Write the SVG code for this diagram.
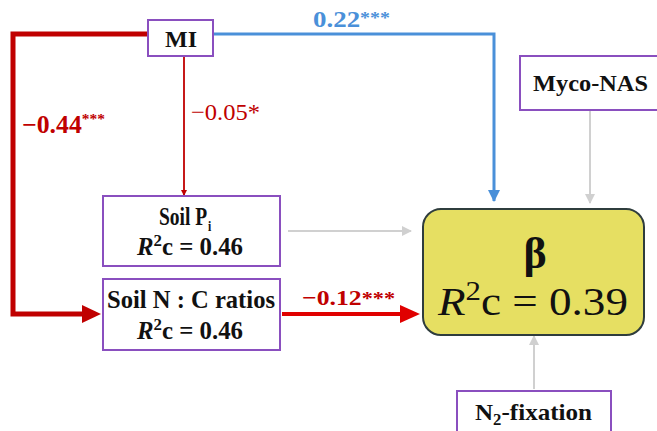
<svg xmlns="http://www.w3.org/2000/svg" width="657" height="431" viewBox="0 0 657 431">
<style>
.box{fill:#fff;stroke:#8a4fbf;stroke-width:2}
.t{font-family:"Liberation Serif","Times New Roman","DejaVu Serif",serif;font-weight:bold}
.s{font-family:"Liberation Serif","Times New Roman","DejaVu Serif",serif}
.k{fill:#111}
.red{fill:#c00000}
.blue{fill:#4a90d9}
</style>
<defs>
<marker id="ar" markerWidth="6" markerHeight="6" refX="5" refY="3" orient="auto" markerUnits="userSpaceOnUse"><path d="M0,0L6,3L0,6z" fill="#c00000"/></marker>
<marker id="ab" markerWidth="12" markerHeight="12" refX="11" refY="6" orient="auto" markerUnits="userSpaceOnUse"><path d="M0,0L12,6L0,12z" fill="#4a90d9"/></marker>
<marker id="ag" markerWidth="10" markerHeight="10" refX="9" refY="5" orient="auto" markerUnits="userSpaceOnUse"><path d="M0,0L10,5L0,10z" fill="#d0d0d0"/></marker>
</defs>
<g id="connectors" fill="none">
<path d="M148,34H13V314H84" stroke="#c00000" stroke-width="5"/>
<path d="M82,305L101,314L82,323z" fill="#c00000"/>
<path d="M184,56V195" stroke="#c00000" stroke-width="1.8" marker-end="url(#ar)"/>
<path d="M213,34H494V201" stroke="#4a90d9" stroke-width="3" marker-end="url(#ab)"/>
<path d="M288,231H411" stroke="#d0d0d0" stroke-width="2" marker-end="url(#ag)"/>
<path d="M282,314H402" stroke="#e00000" stroke-width="4"/>
<path d="M400,305L420,314L400,323z" fill="#e00000"/>
<path d="M590,110V203" stroke="#d0d0d0" stroke-width="2" marker-end="url(#ag)"/>
<path d="M534,389V336" stroke="#d0d0d0" stroke-width="2" marker-end="url(#ag)"/>
<text x="22" y="133" class="t red" font-size="25" textLength="83" lengthAdjust="spacingAndGlyphs">−0.44<tspan font-size="15" dy="-9">***</tspan></text>
<text x="191" y="120" class="s red" font-size="24" textLength="69" lengthAdjust="spacingAndGlyphs">−0.05*</text>
<text x="313" y="27" class="t blue" font-size="23" textLength="77" lengthAdjust="spacingAndGlyphs">0.22<tspan font-size="17" dy="-4">***</tspan></text>
<text x="302" y="305" class="t red" font-size="22" textLength="93" lengthAdjust="spacingAndGlyphs">−0.12<tspan font-size="19">***</tspan></text>
</g>
<g id="MI"><rect class="box" x="148" y="20" width="65" height="36"/><text x="165" y="47" class="t k" font-size="24" textLength="32" lengthAdjust="spacingAndGlyphs">MI</text></g>
<g id="soilP"><rect class="box" x="103" y="196" width="177" height="70"/>
<text transform="translate(159,225) scale(0.78,1)" x="0" y="0" class="t k" font-size="25">Soil P<tspan font-size="15" dx="1" dy="6">i</tspan></text>
<text x="137" y="255" class="t k" font-size="25" textLength="106" lengthAdjust="spacingAndGlyphs"><tspan font-style="italic">R</tspan><tspan font-size="17" dy="-9">2</tspan><tspan dy="9">c = 0.46</tspan></text></g>
<g id="soilNC"><rect class="box" x="103" y="279" width="177" height="71"/>
<text x="107" y="308" class="t k" font-size="25" textLength="168" lengthAdjust="spacingAndGlyphs">Soil N : C ratios</text>
<text x="137" y="339" class="t k" font-size="25" textLength="106" lengthAdjust="spacingAndGlyphs"><tspan font-style="italic">R</tspan><tspan font-size="17" dy="-9">2</tspan><tspan dy="9">c = 0.46</tspan></text></g>
<g id="beta"><rect x="423" y="209" width="221" height="126" rx="18" fill="#e6df62" stroke="#2f3d3d" stroke-width="2"/>
<text x="535" y="268" class="t k" font-size="44" text-anchor="middle">β</text>
<text x="438" y="315" class="s k" font-size="41" textLength="190" lengthAdjust="spacingAndGlyphs"><tspan font-style="italic">R</tspan><tspan font-size="28" dy="-15">2</tspan><tspan dy="15">c = 0.39</tspan></text></g>
<g id="myco"><rect class="box" x="520" y="56" width="145" height="54"/><text x="533" y="91" class="t k" font-size="24" textLength="115" lengthAdjust="spacingAndGlyphs">Myco-NAS</text></g>
<g id="n2"><rect class="box" x="457" y="391" width="154" height="50"/><text x="475" y="420" class="t k" font-size="24" textLength="117" lengthAdjust="spacingAndGlyphs">N<tspan font-size="16" dy="5">2</tspan><tspan dy="-5">-fixation</tspan></text></g>
</svg>
